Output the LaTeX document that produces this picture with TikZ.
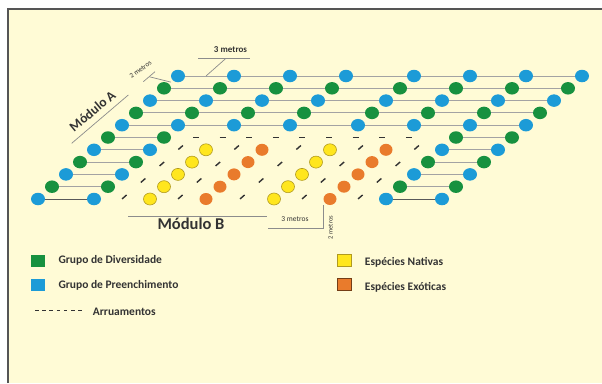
\documentclass[tikz,border=0pt]{standalone}
\usepackage{fontspec}
\setmainfont{Carlito}
\usetikzlibrary{shapes.geometric,calc}

\definecolor{bgcream}{HTML}{FFFBD6}
\definecolor{framegray}{HTML}{555555}
\definecolor{divgreen}{HTML}{17913F}
\definecolor{prenblue}{HTML}{1C9BD7}
\definecolor{natyellow}{HTML}{FFE61E}
\definecolor{natedge}{HTML}{B09A20}
\definecolor{exoorange}{HTML}{E97B2C}
\definecolor{rowgray}{HTML}{A3A3A3}
\definecolor{inkgray}{HTML}{333333}

\tikzset{
  plant/.style={ellipse, inner sep=0pt, minimum width=14pt, minimum height=12.5pt},
  diver/.style={plant, fill=divgreen},
  preen/.style={plant, fill=prenblue},
  tree/.code={\ifodd#1\relax\tikzset{preen}\else\tikzset{diver}\fi},
  nativa/.style={plant, minimum width=13pt, minimum height=12pt, fill=natyellow, draw=natedge, line width=0.6pt},
  exotica/.style={plant, minimum width=13pt, minimum height=12pt, fill=exoorange},
  rowline/.style={rowgray, line width=0.9pt},
  road/.style={inkgray, line width=1.4pt, dash pattern=on 6pt off 19pt},
  dimline/.style={black!45, line width=0.7pt},
  legbox/.style={rectangle, inner sep=0pt, minimum width=14pt, minimum height=12pt},
  legtext/.style={anchor=west, inner sep=0pt, text=inkgray, font=\fontsize{11.5}{12}\selectfont\bfseries},
  small/.style={inner sep=0pt, text=inkgray}
}

\begin{document}
\begin{tikzpicture}[x=1pt,y=-1pt]
  \useasboundingbox (0,0) rectangle (602,383);
  \fill[white] (0,0) rectangle (602,383);
  \fill[bgcream] (7.5,9) rectangle (602,383);
  \draw[framegray, line width=2pt] (7.5,383) -- (7.5,9) -- (602,9);

  % full rows
  \foreach \r in {1,...,5}
    \foreach \c/\cx in {1/178,2/234,3/290,4/346,5/414,6/470,7/526,8/582}
      \node[tree=\r] (p\r-\c) at ({\cx-(\r-1)*14},{76+(\r-1)*12.3}) {};
  % side rows
  \foreach \r in {6,...,11}
    \foreach \c/\cx in {1/178,2/234,7/526,8/582}
      \node[tree=\r] (p\r-\c) at ({\cx-(\r-1)*14},{76+(\r-1)*12.3}) {};
  % modulo B
  \foreach \r in {7,...,11}{
    \foreach \c/\cx in {3/290,5/414}
      \node[nativa] (p\r-\c) at ({\cx-(\r-1)*14},{76+(\r-1)*12.3}) {};
    \foreach \c/\cx in {4/346,6/470}
      \node[exotica] (p\r-\c) at ({\cx-(\r-1)*14},{76+(\r-1)*12.3}) {};
  }

  \foreach \r in {1,...,5}
    \foreach \a/\b in {1/2,2/3,3/4,4/5,5/6,6/7,7/8}
      \draw[rowline] (p\r-\a) -- (p\r-\b);
  \foreach \r in {6,...,10}
    \foreach \a/\b in {1/2,7/8}
      \draw[rowline] (p\r-\a) -- (p\r-\b);
  \foreach \a/\b in {1/2,7/8}
    \draw[black!65, line width=0.9pt] (p11-\a) -- (p11-\b);

  % arruamentos
  \coordinate (rh1) at (193,137.5);
  \coordinate (rh2) at (414,137.5);
  \draw[road, dash pattern=on 6pt off 20.6pt] (rh1) -- (rh2);
  \foreach \k/\x in {1/262,2/318,3/380,4/442,5/498}{
    \coordinate (ra\k) at ({\x-5.65*14},{76+5.65*12.3});
    \coordinate (rb\k) at ({\x-10.2*14},{76+10.2*12.3});
    \draw[road] (ra\k) -- (rb\k);
  }

  % medidas
  \node[small, font=\fontsize{9}{10}\selectfont\bfseries] (tm) at (230.5,50) {3 metros};
  \coordinate (tm1) at (198.3,58.3);
  \coordinate (tm2) at (250,58.3);
  \coordinate (tm3) at (226,58.3);
  \draw[dimline] (tm1) -- (tm2);
  \draw[dimline] (tm3) -- ($(p1-1)!0.5!(p1-2)$);

  \node[small, rotate=36, font=\fontsize{7}{8}\selectfont] (dm) at (140.5,69.5) {2 metros};
  \coordinate (dm1) at (143.3,81.7);
  \coordinate (dm2) at (155,71.7);
  \coordinate (dm3) at (149.5,76.8);
  \draw[dimline] (dm1) -- (dm2);
  \draw[dimline] (dm3) -- ($(p1-1)!0.5!(p2-1)$);

  \node[small, rotate=40, font=\fontsize{13.5}{14}\selectfont\bfseries] (ma) at (92.4,111) {Módulo A};
  \coordinate (ma1) at (71.7,143.3);
  \coordinate (ma2) at (128.3,95);
  \draw[dimline] (ma1) -- (ma2);

  \node[small, font=\fontsize{16.5}{18}\selectfont\bfseries] (mb) at (191,224) {Módulo B};
  \coordinate (mb1) at (128.3,216.5);
  \coordinate (mb2) at (266.7,216.5);
  \draw[dimline] (mb1) -- (mb2);

  \node[small, font=\fontsize{7.5}{8}\selectfont] (bm) at (295,219) {3 metros};
  \coordinate (bm1) at (268.3,228.3);
  \coordinate (bm2) at (323.5,228.3);
  \coordinate (bm3) at (323.5,205);
  \draw[dimline] (bm1) -- (bm2) -- (bm3);
  \node[small, rotate=90, font=\fontsize{6.5}{7}\selectfont] (vm) at (330.5,227.5) {2 metros};

  % legenda
  \node[legbox, fill=divgreen] (lg1) at (37.5,260.5) {};
  \node[legtext] (lt1) at (58.3,260.7) {Grupo de Diversidade};
  \node[legbox, fill=prenblue] (lg2) at (37.5,285.3) {};
  \node[legtext] (lt2) at (58.3,285.3) {Grupo de Preenchimento};
  \coordinate (ld1) at (35,310);
  \coordinate (ld2) at (82,310);
  \draw[inkgray, line width=1pt, dash pattern=on 3.5pt off 3.7pt] (ld1) -- (ld2);
  \node[legtext] (lt3) at (92.7,311.5) {Arruamentos};
  \node[legbox, fill=natyellow, draw=natedge, line width=0.8pt] (lg3) at (344,260.3) {};
  \node[legtext] (lt4) at (364.7,262.7) {Espécies Nativas};
  \node[legbox, fill=exoorange, draw=black!50!exoorange, line width=0.8pt] (lg4) at (344,284.7) {};
  \node[legtext] (lt5) at (364.7,287.3) {Espécies Exóticas};
\end{tikzpicture}
\end{document}
